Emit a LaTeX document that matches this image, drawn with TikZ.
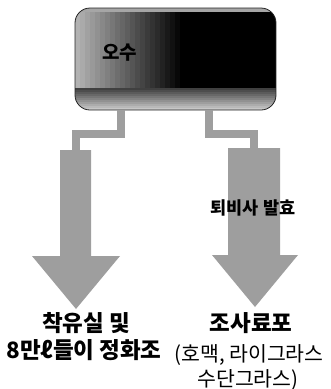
\documentclass[tikz,border=0pt]{standalone}
\usepackage{fontspec}
\newfontfamily\kr{Noto Sans CJK KR}
\usetikzlibrary{calc}
\tikzset{
  conn/.style={draw=black!38, line width=8pt, line join=miter},
  bigarrow/.style={fill=black!38, draw=none},
  lbl/.style={font=\kr\bfseries\fontsize{22.5}{24}\selectfont, inner sep=0pt, anchor=center},
  sublbl/.style={font=\kr\fontsize{20.5}{22}\selectfont, inner sep=0pt, anchor=center},
}
\begin{document}
\begin{tikzpicture}[x=1pt,y=-1pt]
\useasboundingbox (0,0) rectangle (331,389);
% source box
\begin{scope}
  \clip[rounded corners=15pt] (75,8) rectangle (276,110);
  \fill[black] (75,8) rectangle (276,110);
  \foreach \i in {0,...,21}{
    \pgfmathsetmacro{\k}{30+70*\i/21}
    \fill[black!\k] (75+5*\i,8) rectangle (80.6+5*\i,110);
  }
  \foreach \j in {0,...,10}{
    \pgfmathsetmacro{\k}{75-53*\j/10}
    \fill[black!\k] (75,88+2*\j) rectangle (276,90.5+2*\j);
  }
  \fill[black!35] (75,8) rectangle (276,12);
\end{scope}
\node[draw=black!85, line width=0.8pt, rounded corners=15pt, minimum width=201pt, minimum height=102pt, inner sep=0pt] (src) at (175.5,59) {};
\node[font=\kr\bfseries\fontsize{19}{21}\selectfont, text=black, inner sep=0pt] (osu) at (120,53) {오수};
% arrow anchors
\coordinate (lt) at (76,152);
\coordinate (rt) at (254,150);
% left arrow
\fill[bigarrow] (60,150) -- (91,150) -- (91,256) -- (120,256) -- (76,309) -- (32,256) -- (60,256) -- cycle;
% right arrow
\fill[bigarrow] (228,148) -- (280,148) -- (280,255) -- (298,255) -- (255,307) -- (212,255) -- (228,255) -- cycle;
% connectors
\draw[conn] ([xshift=-54.5pt]src.south) -- ++(0,23.5) -| (lt);
\draw[conn] ([xshift=33.5pt]src.south) -- ++(0,23.5) -| (rt);
% labels
\node[lbl, font=\kr\bfseries\fontsize{17.5}{19}\selectfont] (ferm) at (253,208) {퇴비사 발효};
\node[lbl] (l1) at (86,323) {착유실 및};
\node[lbl] (l2) at (84,350) {8만ℓ들이 정화조};
\node[lbl] (r1) at (251,323) {조사료포};
\node[sublbl] (r2) at (249,355) {(호맥, 라이그라스};
\node[sublbl] (r3) at (248,380) {수단그라스)};
\end{tikzpicture}
\end{document}
